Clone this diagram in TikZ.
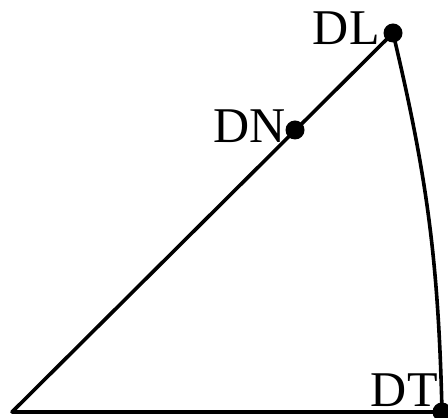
\documentclass[tikz,border=0pt]{standalone}
\usepackage{fontspec}
\setmainfont{Liberation Serif}
\begin{document}
\begin{tikzpicture}[x=0.5pt,y=0.5pt,
  dot/.style={circle,fill=black,inner sep=0pt,minimum size=9.5pt},
  lab/.style={font=\fontsize{25}{30}\selectfont,inner sep=0pt,anchor=base east},
  edge/.style={line width=1.8pt,line join=round}]
 \useasboundingbox (0,0) rectangle (448,417);
 \coordinate (O) at (12,5);
 \node[dot] (DL) at (393,384) {};
 \node[dot] (DN) at (295,287) {};
 \node[dot] (DT) at (442,5) {};
 \draw[edge] (DL.center) -- (O) -- (DT.center);
 \draw[edge] (DL.center) to[bend left=6] (DT.center);
 \node[lab] (tDL) at (380,372) {DL};
 \node[lab] (tDN) at (286,274) {DN};
 \node[lab] (tDT) at (438,11) {DT};
\end{tikzpicture}
\end{document}
